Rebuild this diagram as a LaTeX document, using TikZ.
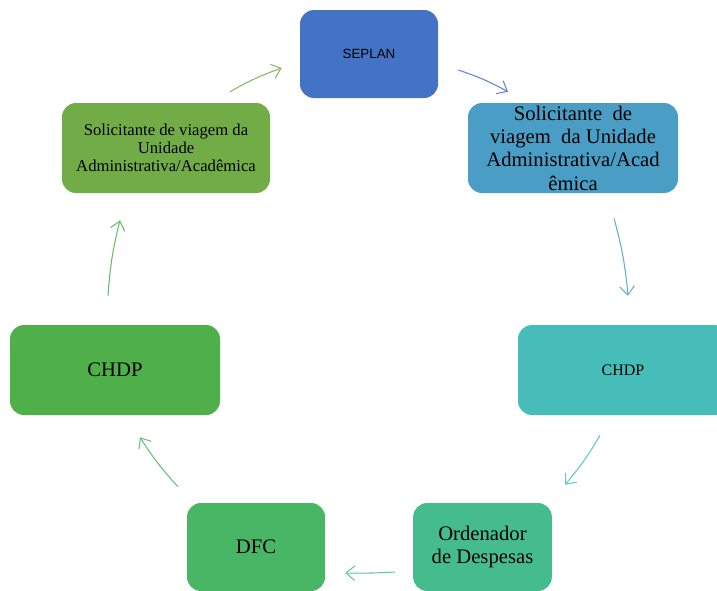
\documentclass[tikz,border=0pt]{standalone}
\usepackage{fontspec}
\setmainfont{Liberation Serif}
\newfontfamily\arialfont{Liberation Sans}
\usetikzlibrary{arrows.meta}
\definecolor{corSeplan}{HTML}{4472C4}
\definecolor{corSolicDir}{HTML}{4A9EC6}
\definecolor{corChdpDir}{HTML}{46BDB8}
\definecolor{corOrdenador}{HTML}{45BC8E}
\definecolor{corDfc}{HTML}{49B665}
\definecolor{corChdpEsq}{HTML}{4FB04A}
\definecolor{corSolicEsq}{HTML}{72AC47}
\begin{document}
\begin{tikzpicture}[x=0.75pt,y=-0.75pt,
    caixa/.style={rounded corners=10.5pt,inner sep=0pt,align=center,text=black},
    seta/.style={line width=0.8pt,-{Straight Barb[length=6.5pt,width=11pt]},bend left=5}]
                \useasboundingbox (0,0) rectangle (717,590);
                \clip (0,0) rectangle (717,590);

                \node[caixa,fill=corSeplan,minimum width=103.5pt,minimum height=66pt,font=\arialfont\fontsize{10}{12}\selectfont] (seplan) at (369,54) {SEPLAN};
                \node[caixa,fill=corSolicDir,minimum width=157.5pt,minimum height=67.5pt,font=\fontsize{15.5}{17.5}\selectfont] (solicDir) at (573,148) {Solicitante\ \ de\\viagem\ \ da Unidade\\Administrativa/Acad\\êmica};
                \node[caixa,fill=corChdpDir,minimum width=157.5pt,minimum height=67.5pt,font=\fontsize{12}{14}\selectfont] (chdpDir) at (623,370) {CHDP};
                \node[caixa,fill=corOrdenador,minimum width=104pt,minimum height=66pt,font=\fontsize{15.5}{17.5}\selectfont] (ordenador) at (482.5,547) {Ordenador\\de Despesas};
                \node[caixa,fill=corDfc,minimum width=103.5pt,minimum height=66pt,font=\fontsize{15.5}{18}\selectfont] (dfc) at (256,547) {DFC};
                \node[caixa,fill=corChdpEsq,minimum width=157.5pt,minimum height=67.5pt,font=\fontsize{15.5}{18}\selectfont] (chdpEsq) at (115,370) {CHDP};
                \node[caixa,fill=corSolicEsq,minimum width=156pt,minimum height=67.5pt,font=\fontsize{12.5}{13.5}\selectfont] (solicEsq) at (166,148) {Solicitante de viagem da\\Unidade\\Administrativa/Acadêmica};

                \draw[seta,color=corSolicEsq!85!white] ([shift={(64,-11)}]solicEsq.north) to ([shift={(-18,14)}]seplan.west);
                \draw[seta,color=corSeplan!85!white] ([shift={(20,16)}]seplan.east) to ([shift={(-65,-11)}]solicDir.north);
                \draw[seta,color=corSolicDir!85!white] ([shift={(41,25)}]solicDir.south) to ([shift={(5,-29)}]chdpDir.north);
                \draw[seta,color=corChdpDir!85!white] ([shift={(-23,20)}]chdpDir.south) to ([shift={(82.5,-18)}]ordenador.north);
                \draw[seta,color=corOrdenador!85!white,bend left=2] ([shift={(-18,25)}]ordenador.west) to ([shift={(20,26)}]dfc.east);
                \draw[seta,color=corDfc!85!white] ([shift={(-78,-16)}]dfc.north) to ([shift={(25,22)}]chdpEsq.south);
                \draw[seta,color=corChdpEsq!85!white] ([shift={(-7,-29)}]chdpEsq.north) to ([shift={(-46,27)}]solicEsq.south);
            \end{tikzpicture}
\end{document}
